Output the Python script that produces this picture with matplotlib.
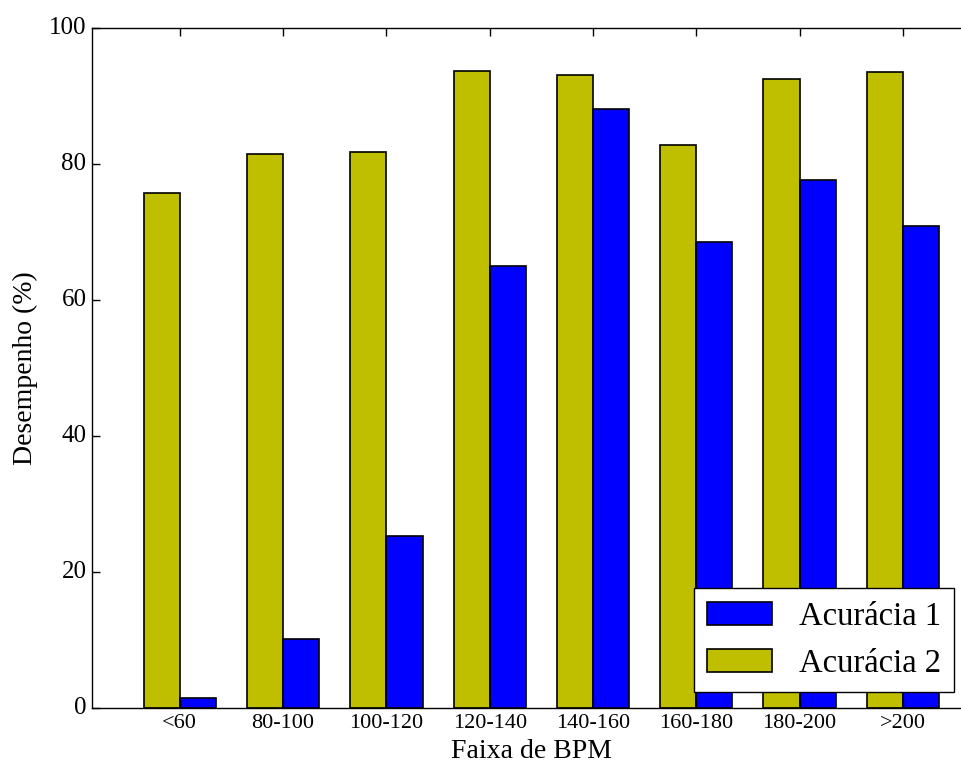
import numpy as np
import matplotlib
matplotlib.use("Agg")
import matplotlib.pyplot as plt

plt.style.use("classic")
plt.rcParams["font.family"] = ["Liberation Serif", "DejaVu Serif"]

faixas = ["<60", "80-100", "100-120", "120-140", "140-160", "160-180", "180-200", ">200"]
acuracia1 = [1.5, 10.1, 25.3, 65.0, 88.1, 68.5, 77.6, 70.9]
acuracia2 = [75.7, 81.5, 81.8, 93.7, 93.1, 82.8, 92.5, 93.5]

ind = np.arange(len(faixas))
width = 0.35

fig = plt.figure(figsize=(9.61, 7.69), dpi=100, facecolor="white")
ax = fig.add_axes([92 / 961, 61 / 769, 878 / 961, 680 / 769])

b2 = ax.bar(ind, acuracia2, width, align="edge", color="y", edgecolor="k", linewidth=1.2)
b1 = ax.bar(ind + width, acuracia1, width, align="edge", color="b", edgecolor="k", linewidth=1.2)

ax.set_xlim(-0.5, 8.0)
ax.set_ylim(0, 100)
ax.set_xticks(ind + width)
ax.set_xticklabels(faixas, fontsize=16)
ax.set_yticks(np.arange(0, 101, 20))
ax.tick_params(axis="y", labelsize=18)
ax.tick_params(length=5.5, width=1, direction="in")
for s in ax.spines.values():
    s.set_linewidth(1.0)

ax.set_xlabel("Faixa de BPM", fontsize=20)
ax.set_ylabel("Desempenho (%)", fontsize=20, labelpad=8)

ax.legend([b1, b2], ["Acurácia 1", "Acurácia 2"], loc="lower right",
          fontsize=23.5, fancybox=False, borderaxespad=0.5)

plt.savefig("out.png", dpi=100, facecolor="white")
